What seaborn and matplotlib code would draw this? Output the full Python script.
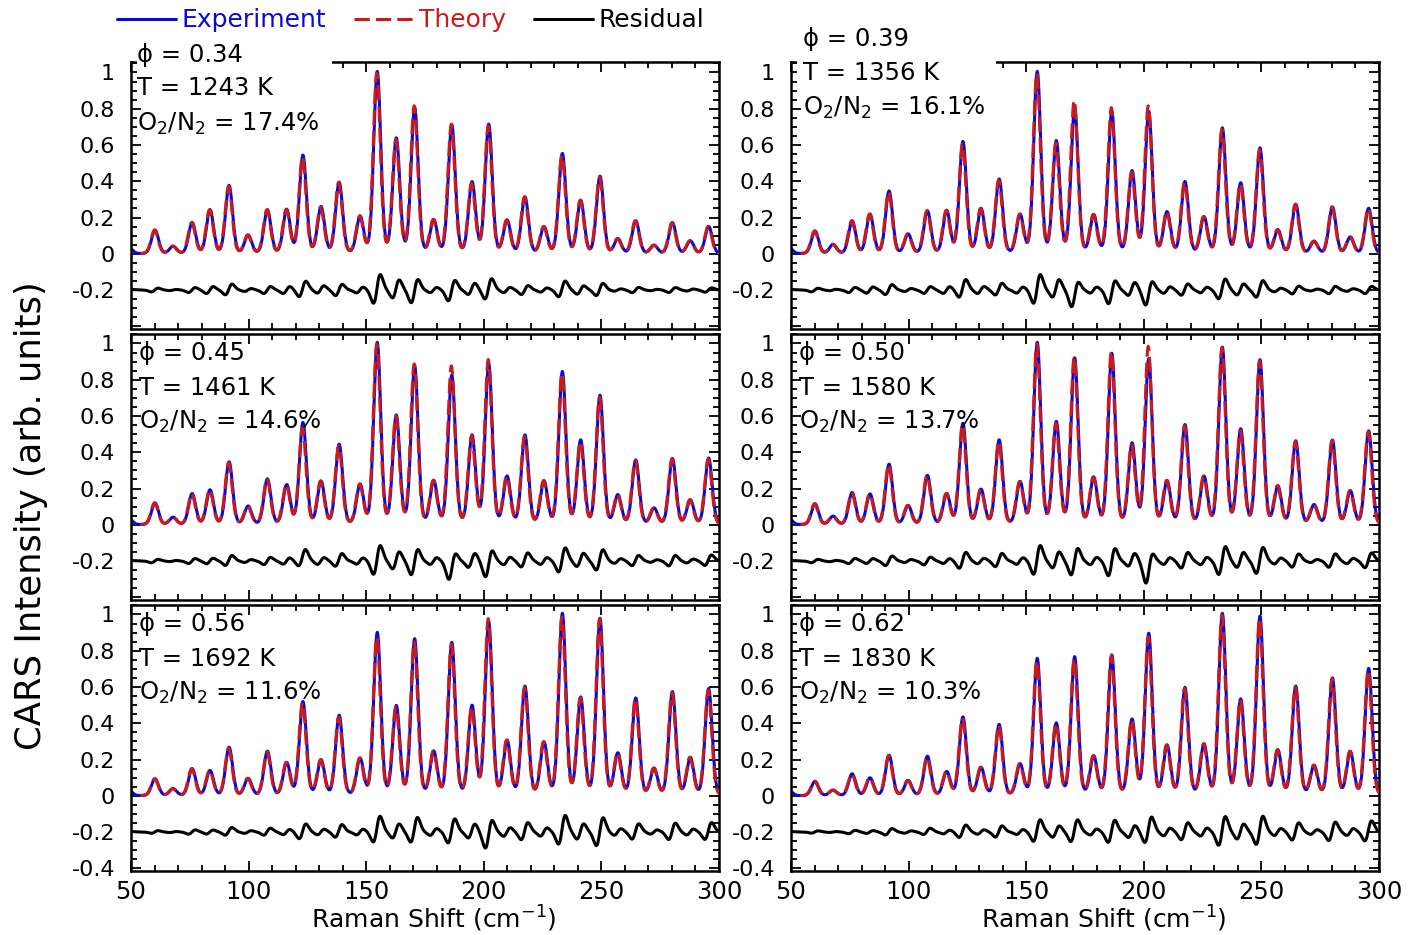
import numpy as np
import pandas as pd
import matplotlib
matplotlib.use("Agg")
import matplotlib.pyplot as plt
import seaborn as sns
from matplotlib.lines import Line2D
from matplotlib.patches import Rectangle
from matplotlib.ticker import MultipleLocator

# ---------------- data ----------------
# line centres (cm^-1) of the resolved rotational lines
line_pos = [49.0, 60.2, 67.9, 76.0, 83.6, 91.7, 99.8, 108.0, 116.2, 123.1,
            130.8, 138.5, 147.4, 154.7, 162.8, 170.6, 178.7, 186.4, 195.0,
            202.1, 209.9, 217.5, 225.6, 233.4, 241.2, 249.4, 257.0, 264.6,
            272.4, 280.2, 287.8, 295.6]

phi_labels = ["0.34", "0.39", "0.45", "0.50", "0.56", "0.62"]
temp_labels = ["1243", "1356", "1461", "1580", "1692", "1830"]
o2n2_labels = ["17.4", "16.1", "14.6", "13.7", "11.6", "10.3"]

exp_034 = [0.035, 0.13, 0.04, 0.17, 0.24, 0.375, 0.10, 0.24, 0.24, 0.54, 0.255,
           0.39, 0.20, 1.0, 0.63, 0.80, 0.18, 0.705, 0.39, 0.71, 0.18, 0.31,
           0.145, 0.55, 0.29, 0.425, 0.08, 0.18, 0.045, 0.17, 0.07, 0.15]
thy_034 = [0.035, 0.13, 0.04, 0.17, 0.24, 0.37, 0.10, 0.24, 0.24, 0.53, 0.25,
           0.39, 0.20, 0.99, 0.62, 0.81, 0.18, 0.71, 0.38, 0.70, 0.18, 0.31,
           0.145, 0.54, 0.29, 0.42, 0.08, 0.18, 0.045, 0.17, 0.07, 0.15]

exp_039 = [0.035, 0.125, 0.05, 0.18, 0.216, 0.344, 0.106, 0.234, 0.234, 0.615,
           0.244, 0.408, 0.21, 1.0, 0.615, 0.80, 0.207, 0.78, 0.45, 0.78, 0.225,
           0.394, 0.198, 0.69, 0.385, 0.58, 0.128, 0.27, 0.066, 0.256, 0.09, 0.25]
thy_039 = [0.035, 0.125, 0.05, 0.18, 0.216, 0.34, 0.106, 0.234, 0.234, 0.60,
           0.244, 0.40, 0.21, 0.99, 0.60, 0.84, 0.207, 0.80, 0.44, 0.81, 0.225,
           0.39, 0.198, 0.68, 0.38, 0.57, 0.128, 0.27, 0.066, 0.256, 0.09, 0.25]

exp_045 = [0.035, 0.12, 0.04, 0.17, 0.19, 0.345, 0.10, 0.25, 0.216, 0.56, 0.235,
           0.44, 0.216, 1.0, 0.596, 0.87, 0.235, 0.82, 0.486, 0.88, 0.26, 0.49,
           0.235, 0.84, 0.46, 0.71, 0.16, 0.354, 0.088, 0.363, 0.134, 0.367]
thy_045 = [0.035, 0.12, 0.04, 0.17, 0.19, 0.34, 0.10, 0.25, 0.216, 0.53, 0.235,
           0.43, 0.216, 0.99, 0.59, 0.88, 0.235, 0.87, 0.48, 0.905, 0.26, 0.48,
           0.235, 0.83, 0.45, 0.70, 0.16, 0.35, 0.088, 0.36, 0.134, 0.36]

exp_050 = [0.035, 0.115, 0.046, 0.176, 0.167, 0.332, 0.103, 0.27, 0.167, 0.556,
           0.19, 0.464, 0.23, 1.0, 0.56, 0.914, 0.253, 0.94, 0.442, 0.91, 0.235,
           0.547, 0.259, 0.974, 0.52, 0.905, 0.207, 0.459, 0.106, 0.464, 0.183, 0.516]
thy_050 = [0.035, 0.115, 0.046, 0.176, 0.167, 0.33, 0.103, 0.27, 0.167, 0.55,
           0.19, 0.455, 0.23, 0.99, 0.55, 0.92, 0.253, 0.95, 0.43, 0.978, 0.235,
           0.54, 0.259, 0.97, 0.51, 0.90, 0.207, 0.455, 0.106, 0.46, 0.183, 0.51]

exp_056 = [0.03, 0.093, 0.038, 0.148, 0.137, 0.266, 0.093, 0.243, 0.179, 0.516,
           0.193, 0.44, 0.20, 0.896, 0.489, 0.86, 0.237, 0.84, 0.489, 0.95, 0.297,
           0.598, 0.288, 1.0, 0.535, 0.973, 0.228, 0.535, 0.146, 0.571, 0.206, 0.589]
thy_056 = [0.03, 0.093, 0.038, 0.148, 0.137, 0.26, 0.093, 0.24, 0.179, 0.51,
           0.193, 0.43, 0.20, 0.87, 0.48, 0.84, 0.237, 0.83, 0.48, 0.97, 0.297,
           0.59, 0.288, 0.98, 0.53, 0.97, 0.228, 0.53, 0.146, 0.565, 0.206, 0.58]

exp_062 = [0.03, 0.079, 0.03, 0.12, 0.097, 0.222, 0.082, 0.216, 0.13, 0.432,
           0.152, 0.39, 0.17, 0.753, 0.394, 0.762, 0.212, 0.771, 0.414, 0.89,
           0.271, 0.592, 0.277, 1.0, 0.524, 0.985, 0.244, 0.60, 0.161, 0.646,
           0.238, 0.70]
thy_062 = [0.03, 0.079, 0.03, 0.12, 0.097, 0.22, 0.082, 0.21, 0.13, 0.425,
           0.152, 0.385, 0.17, 0.74, 0.39, 0.75, 0.212, 0.765, 0.41, 0.87,
           0.271, 0.585, 0.277, 0.99, 0.52, 0.97, 0.244, 0.595, 0.161, 0.64,
           0.238, 0.69]

exp_sets = [exp_034, exp_039, exp_045, exp_050, exp_056, exp_062]
thy_sets = [thy_034, thy_039, thy_045, thy_050, thy_056, thy_062]

THEORY_SHIFT = -0.2      # cm^-1, small offset of the fitted line positions
RESID_OFFSET = -0.2      # residual is displayed offset by -0.2
THEORY_START = 54.0      # theory plotted from here on

# line shape (pseudo-Voigt) parameters
SIGMA, GAMMA, ETA = 1.5, 1.7, 0.1


def spectrum(x, centres, heights):
    y = np.zeros_like(x)
    for c, h in zip(centres, heights):
        d = x - c
        y += h * ((1 - ETA) * np.exp(-d ** 2 / (2 * SIGMA ** 2))
                  + ETA / (1 + (d / GAMMA) ** 2))
    return y


# ---------------- style ----------------
sns.set_style("ticks")
plt.rcParams["font.family"] = ["DejaVu Sans"]
plt.rcParams["mathtext.fontset"] = "dejavusans"
plt.rcParams["axes.unicode_minus"] = False
plt.rcParams["text.color"] = "black"
plt.rcParams["axes.labelcolor"] = "black"
plt.rcParams["xtick.color"] = "black"
plt.rcParams["ytick.color"] = "black"

BLUE = "#0a0ad6"
RED = "#cc1a1a"
LW = 2.2
DASH = (0, (5, 2))

W, H = 1416, 935
fig = plt.figure(figsize=(W / 100, H / 100), dpi=100)

col_left = [131, 791]
row_top = [62.5, 333.5, 604.5]
ax_w, ax_h = 588, 266.5

# text placement (data coords): x start and baselines per panel
txt_x = [52.7, 55.3, 53.2, 53.2, 53.2, 53.2]
txt_y = [(1.057, 0.877, 0.676), (1.144, 0.956, 0.768),
         (0.908, 0.716, 0.527), (0.908, 0.716, 0.527),
         (0.908, 0.716, 0.527), (0.908, 0.716, 0.527)]
mask_x_end = [135.6, 137.0]

x = np.linspace(50, 300, 2501)
ytick_vals = [-0.4, -0.2, 0, 0.2, 0.4, 0.6, 0.8, 1.0]
ytick_txt = ["-0.4", "-0.2", "0", "0.2", "0.4", "0.6", "0.8", "1"]

for k in range(6):
    r, c = divmod(k, 2)
    ax = fig.add_axes([col_left[c] / W, 1 - (row_top[r] + ax_h) / H,
                       ax_w / W, ax_h / H])
    centres_t = [p + THEORY_SHIFT for p in line_pos]
    e = spectrum(x, line_pos, exp_sets[k])
    t = spectrum(x, centres_t, thy_sets[k])
    df = pd.DataFrame({"raman": x, "exp": e, "theory": t,
                       "resid": e - t + RESID_OFFSET})
    sns.lineplot(data=df, x="raman", y="exp", ax=ax, color=BLUE, lw=LW,
                 estimator=None, sort=False, zorder=2)
    sns.lineplot(data=df[df["raman"] >= THEORY_START], x="raman", y="theory",
                 ax=ax, color=RED, lw=LW, linestyle=DASH,
                 estimator=None, sort=False, zorder=3)
    sns.lineplot(data=df, x="raman", y="resid", ax=ax, color="black", lw=LW,
                 estimator=None, sort=False, zorder=2)

    ax.set_xlim(50, 300)
    ax.set_ylim(-0.415, 1.055)
    ax.set_xlabel("")
    ax.set_ylabel("")
    ax.xaxis.set_major_locator(MultipleLocator(50))
    ax.xaxis.set_minor_locator(MultipleLocator(10))
    ax.set_yticks(ytick_vals)
    labels = list(ytick_txt)
    if r < 2:
        labels[0] = ""
    ax.set_yticklabels(labels)
    ax.yaxis.set_minor_locator(MultipleLocator(0.05))
    ax.tick_params(which="both", direction="in", top=True, right=True,
                   width=1.3, colors="black")
    ax.tick_params(which="major", length=7.2)
    ax.tick_params(which="minor", length=4.2)
    ax.tick_params(axis="y", labelsize=16, pad=11.5)
    ax.tick_params(axis="x", labelsize=17.5, pad=6.5,
                   labelbottom=(r == 2))
    for s in ax.spines.values():
        s.set_linewidth(1.8)
        s.set_color("black")

    if r == 0:
        ax.add_patch(Rectangle((52.6, 0.99), mask_x_end[c] - 52.6, 0.12,
                               facecolor="white", edgecolor="none",
                               clip_on=False, zorder=4))

    fs = 17.5
    y1, y2, y3 = txt_y[k]
    ax.text(txt_x[k], y1, "\u03d5 = " + phi_labels[k], fontsize=fs,
            va="baseline", ha="left", zorder=5, clip_on=False)
    ax.text(txt_x[k], y2, "T = " + temp_labels[k] + " K", fontsize=fs,
            va="baseline", ha="left", zorder=5, clip_on=False)
    ax.text(txt_x[k], y3, "O$_2$/N$_2$ = " + o2n2_labels[k] + "%",
            fontsize=fs, va="baseline", ha="left", zorder=5, clip_on=False)

# axis titles
fig.text(31 / W, 1 - 516 / H, "CARS Intensity (arb. units)", rotation=90,
         ha="center", va="center", fontsize=25.5)
fig.text(433.5 / W, 1 - 928 / H, "Raman Shift (cm$^{-1}$)", ha="center",
         va="baseline", fontsize=18)
fig.text(1103.8 / W, 1 - 928 / H, "Raman Shift (cm$^{-1}$)", ha="center",
         va="baseline", fontsize=18)

# legend
handles = [Line2D([], [], color=BLUE, lw=LW),
           Line2D([], [], color=RED, lw=LW, linestyle=DASH),
           Line2D([], [], color="black", lw=LW)]
fig.legend(handles, ["Experiment", "Theory", "Residual"], loc="center left",
           bbox_to_anchor=(117 / W, 1 - 20.4 / H), ncol=3, frameon=False,
           fontsize=18, handlelength=2.36, handletextpad=0.24,
           columnspacing=1.1, borderpad=0, borderaxespad=0,
           labelcolor="linecolor")

fig.savefig("out.png", dpi=100)
